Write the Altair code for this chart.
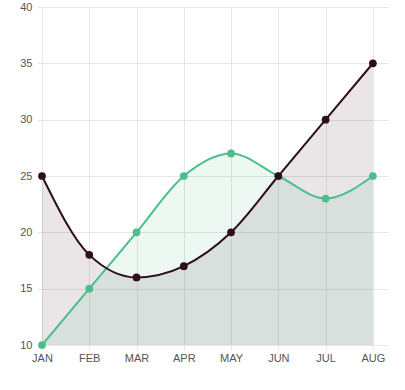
import altair as alt
import pandas as pd

months = ["JAN", "FEB", "MAR", "APR", "MAY", "JUN", "JUL", "AUG"]
dark_values = [25, 18, 16, 17, 20, 25, 30, 35]
green_values = [10, 15, 20, 25, 27, 25, 23, 25]
y_ticks = [10, 15, 20, 25, 30, 35, 40]

rows = []
for i, m in enumerate(months):
    rows.append({"idx": i, "month": m, "series": "green", "value": green_values[i]})
for i, m in enumerate(months):
    rows.append({"idx": i, "month": m, "series": "dark", "value": dark_values[i]})
df = pd.DataFrame(rows)

DARK = "#2d0e1e"
GREEN = "#4cbe8c"
GRID = "#e6e6e6"

label_expr = "[" + ",".join("'" + m + "'" for m in months) + "][datum.value]"

x_enc = alt.X(
    "idx:Q",
    scale=alt.Scale(domain=[0, 7.32], nice=False, zero=False),
    axis=alt.Axis(
        values=list(range(len(months))),
        labelExpr=label_expr,
        title=None,
        grid=True,
        gridColor=GRID,
        tickColor=GRID,
        tickSize=5,
        domain=False,
        labelColor="#555555",
        labelFont="Liberation Sans",
        labelFontSize=11,
        labelPadding=2,
        labelFlush=False,
        labelOverlap=False,
    ),
)
y_enc = alt.Y(
    "value:Q",
    stack=None,
    scale=alt.Scale(domain=[10, 40], nice=False, zero=False),
    axis=alt.Axis(
        values=y_ticks,
        title=None,
        grid=True,
        gridColor=GRID,
        tickColor=GRID,
        tickSize=5,
        domain=False,
        labelColor="#555555",
        labelFont="Liberation Sans",
        labelFontSize=11,
        labelPadding=5,
    ),
)
color_enc = alt.Color(
    "series:N",
    scale=alt.Scale(domain=["green", "dark"], range=[GREEN, DARK]),
    legend=None,
)

base = alt.Chart(df).encode(x=x_enc, y=y_enc, color=color_enc)

area = base.mark_area(interpolate="monotone", opacity=0.1).encode(y2=alt.datum(10))
line = base.mark_line(interpolate="monotone", strokeWidth=2)
points = base.mark_point(filled=True, size=60, opacity=1)

chart = (
    alt.layer(area, line, points)
    .properties(
        width=346,
        height=338,
        autosize=alt.AutoSizeParams(type="none"),
        padding={"left": 42, "top": 7, "right": 17, "bottom": 45},
    )
    .configure_view(stroke=None)
)

chart.save("out.html", embed_options={"renderer": "svg", "actions": False})
